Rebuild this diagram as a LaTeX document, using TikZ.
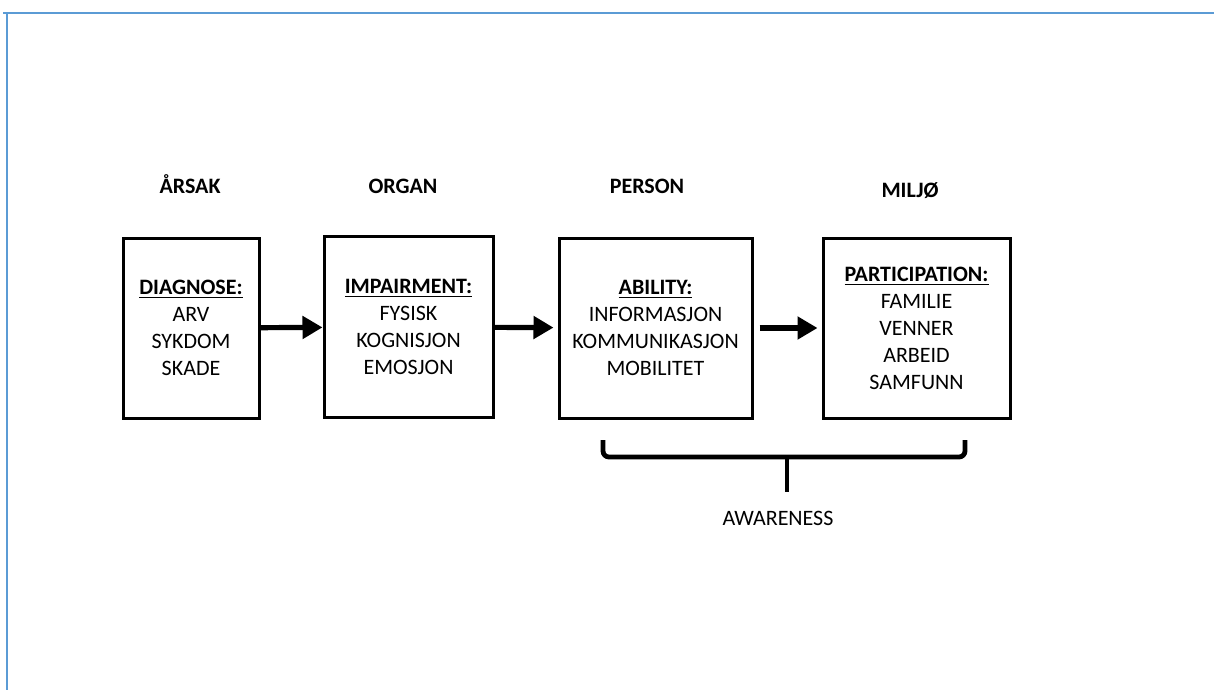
\documentclass[tikz,border=0pt]{standalone}
\usepackage{fontspec}
\setmainfont{Carlito}
\usepackage{tikz}
\usetikzlibrary{calc}
\usetikzlibrary{arrows.meta}
\usetikzlibrary{positioning}
\definecolor{frameblue}{RGB}{91,155,213}
\tikzset{>={Triangle[length=10pt, width=11pt]}}
\tikzstyle{stage} = [rectangle, draw=black, line width=1.5pt, align=center, inner sep=2, font=\fontsize{11}{13.5}\selectfont]
\tikzstyle{head} = [draw=none, align=center, inner sep=1, anchor=base, font=\fontsize{11}{13}\selectfont\bfseries]
\tikzstyle{flow} = [->, draw=black, line width=2.6pt]

\begin{document}
\begin{tikzpicture}[x=0.5pt, y=-0.5pt]
\useasboundingbox (0,0) rectangle (1214,690);
\draw [frameblue, line width=1.2pt] (3,13) -- (1214,13);
\draw [frameblue, line width=1.2pt] (7,13) -- (7,690);
\node [head] (HA) at (190, 193) {ÅRSAK};
\node [head] (HO) at (403, 193) {ORGAN};
\node [head] (HP) at (647, 193) {PERSON};
\node [head] (HM) at (910, 197) {MILJØ};
\node [stage, minimum width=68pt, minimum height=90pt] (D) at (191, 328) {\underline{\textbf{DIAGNOSE:}}\\ARV\\SYKDOM\\SKADE};
\node [stage, minimum width=84.5pt, minimum height=90.5pt] (I) at (408.5, 327) {\underline{\textbf{IMPAIRMENT:}}\\FYSISK\\KOGNISJON\\EMOSJON};
\node [stage, minimum width=96.5pt, minimum height=90pt] (AB) at (655.5, 328) {\underline{\textbf{ABILITY:}}\\INFORMASJON\\KOMMUNIKASJON\\MOBILITET};
\node [stage, minimum width=93.5pt, minimum height=90pt] (P) at (916.5, 328) {\underline{\textbf{PARTICIPATION:}}\\FAMILIE\\VENNER\\ARBEID\\SAMFUNN};
\draw [flow] (D) to (I);
\draw [flow, shorten >=2pt] (I) to (AB);
\draw [flow, shorten <=3pt, shorten >=2pt] (AB) to (P);
%brace under person and miljo
\coordinate (BL) at (603, 440);
\coordinate (BR) at (965, 440);
\coordinate (BM) at (787, 457);
\node [draw=none, inner sep=1, anchor=base, font=\fontsize{11}{13}\selectfont] (AW) at (778, 525) {AWARENESS};
\draw [line width=2.4pt, rounded corners=3pt] (BL) |- (BM) -| (BR);
\draw [line width=2.4pt] (BM) -- ($(BM)+(0,35)$);
\end{tikzpicture}
\end{document}
